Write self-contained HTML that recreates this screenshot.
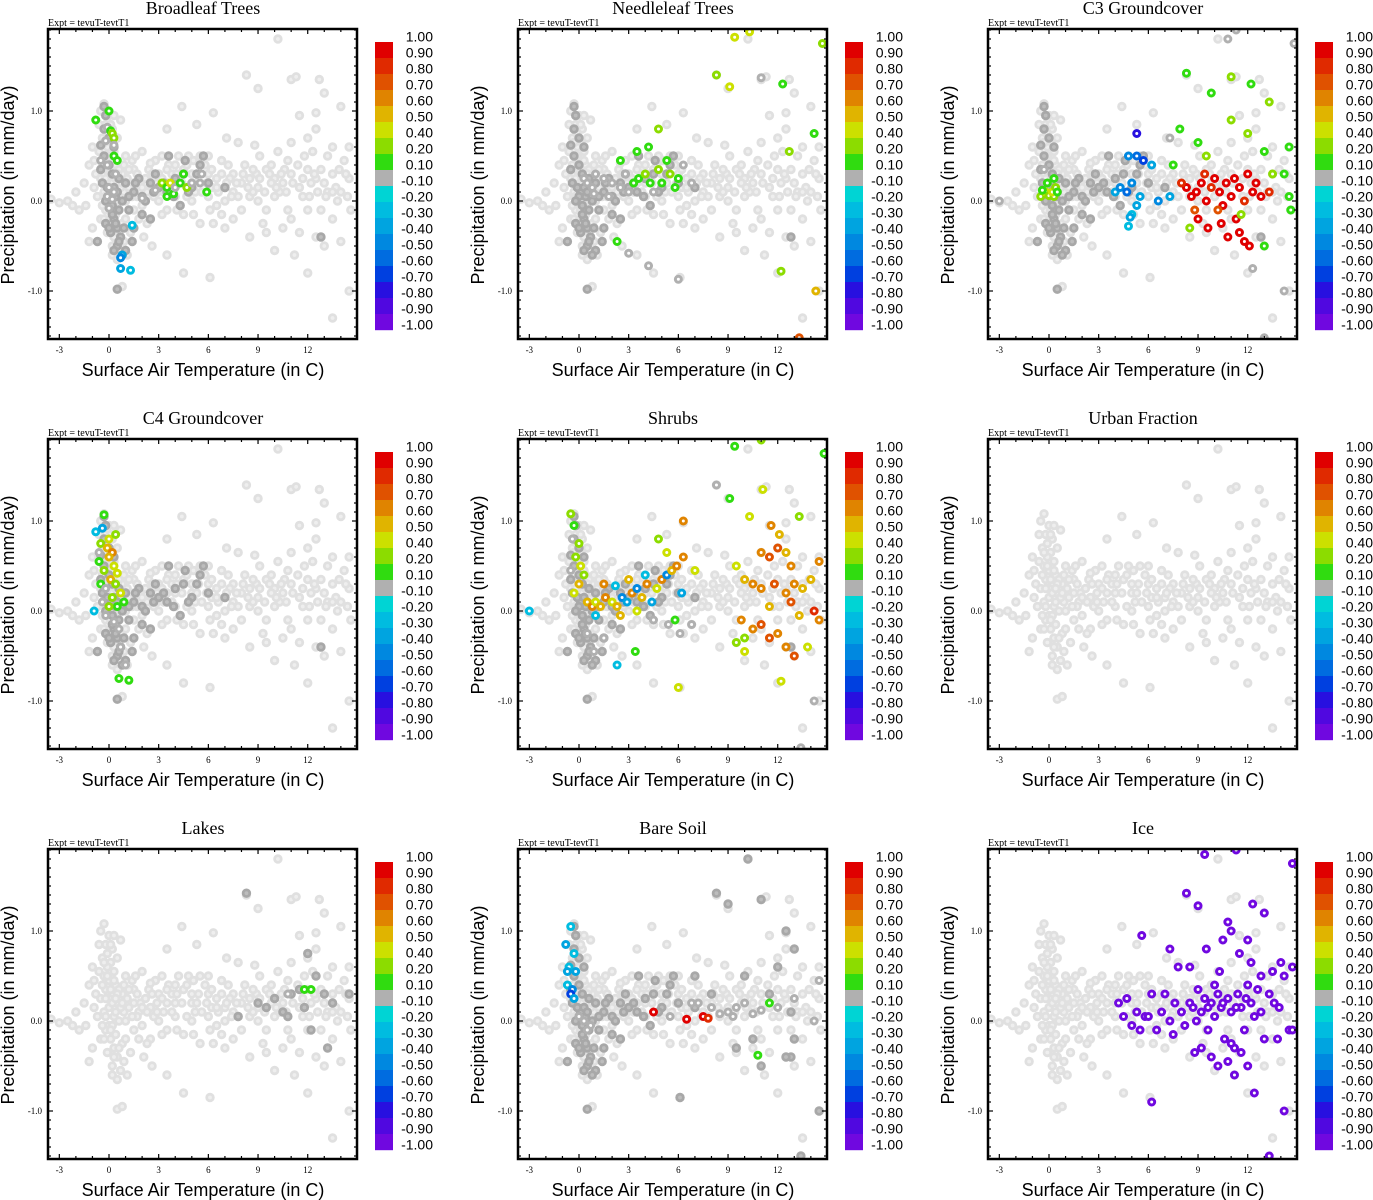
<!DOCTYPE html>
<html><head><meta charset="utf-8"><style>
body{margin:0;background:#fff;}
svg{display:block;}
.title{font-family:"Liberation Serif",serif;font-size:18px;}
.expt{font-family:"Liberation Serif",serif;font-size:10px;}
.tick{font-family:"Liberation Serif",serif;font-size:9px;}
.axl{font-family:"Liberation Sans",sans-serif;font-size:18px;}
.cbl{font-family:"Liberation Sans",sans-serif;font-size:14px;}
</style></head><body>
<svg id="chart" width="1373" height="1200" xmlns="http://www.w3.org/2000/svg"></svg>
<script>
const titles=["Broadleaf Trees","Needleleaf Trees","C3 Groundcover","C4 Groundcover","Shrubs","Urban Fraction","Lakes","Bare Soil","Ice"];
const xTicks=[-3,0,3,6,9,12];
const yTicks=[1.0,0.0,-1.0];
const yTickLabels=["1.0","0.0","-1.0"];
const cbLabels=["1.00","0.90","0.80","0.70","0.60","0.50","0.40","0.20","0.10","-0.10","-0.20","-0.30","-0.40","-0.50","-0.60","-0.70","-0.80","-0.90","-1.00"];
const cbColors=["#e00000","#e02a00","#e05200","#e08400","#e0b400","#cce000","#8cdc00","#30dc10","#b0b0b0","#00d4d4","#00bce0","#00a4e0","#0088e0","#006ce0","#0040e0","#2810e0","#5008e0","#7008e0"];
const base=[[-0.5,1.0],[-0.3,1.08],[0,0.95],[-0.2,0.85],[0.2,0.8],[-0.4,0.7],[0.1,0.65],[-0.1,0.6],[0.3,0.55],[-0.3,0.5],[0,0.45],[0.4,0.4],[-0.2,0.35],[0.2,0.3],[-0.5,0.25],[0.5,0.2],[0,0.15],[-0.3,0.1],[0.3,0.05],[0.6,0],[0,-0.05],[-0.2,-0.1],[0.4,-0.15],[0.1,-0.2],[0.8,-0.25],[0.3,-0.3],[-0.1,-0.35],[0.5,-0.4],[0.9,-0.45],[0.2,-0.5],[0.7,-0.55],[1.1,-0.6],[0.5,-0.98],[0.8,-0.95],[-1,0.6],[-1.2,0.4],[-1.5,0.2],[-2,0.1],[-2.5,0],[-3.5,0.02],[-3,-0.02],[-2.2,-0.05],[-1.8,-0.1],[-1,-0.3],[-1.2,-0.45],[1.5,0.2],[1.8,0.1],[2.2,0.25],[2.5,0.15],[3,0.3],[3.5,0.2],[4,0.4],[4.5,0.35],[5,0.2],[5.5,0.5],[6,0.3],[6.5,0.25],[7,0.15],[7.5,0.3],[8,0.2],[8.5,0.25],[9,0.15],[9.5,0.35],[10,0.25],[10.5,0.2],[11,0.3],[11.5,0.15],[12,0.35],[12.5,0.25],[13,0.2],[13.5,0.3],[14,0.1],[14.5,0.25],[1,0.0],[1.5,-0.1],[2,-0.05],[2.5,-0.2],[3,0.0],[3.5,-0.1],[4,0.05],[4.5,-0.15],[5,0.0],[5.5,-0.25],[6,0.05],[6.5,-0.05],[7,0.0],[7.5,0.1],[8,-0.1],[8.5,0.05],[9,0.0],[9.5,-0.1],[10,0.05],[10.5,-0.3],[11,-0.2],[11.5,-0.35],[12,-0.1],[12.5,-0.4],[13,-0.5],[13.5,-0.2],[14,-0.45],[10,-0.55],[11.2,-0.6],[9.3,-0.25],[12,-0.8],[14.5,-1.0],[13.5,-1.3],[6.1,-0.85],[4.5,-0.8],[3.5,-0.6],[8.3,1.4],[9,1.25],[10.2,1.8],[11,1.35],[11.3,1.38],[12.7,1.35],[13,1.2],[14,1.05],[11.5,0.95],[12.5,0.98],[6.3,0.98],[5.3,0.85],[4.4,1.05],[3.5,0.8],[7.1,0.7],[7.8,0.65],[8.8,0.62],[11,0.65],[12,0.7],[12.5,0.8],[14.5,0.6],[3.2,0.5],[2.8,0.45],[1.5,0.35],[2,0.55],[3.8,0.3],[4.8,0.5],[5.8,0.4],[6.8,0.45],[8.2,0.4],[9.8,0.4],[10.8,0.45],[11.8,0.5],[13.2,0.5],[14.2,0.45],[0.8,0.3],[1.2,0.15],[0.5,0.7],[-0.6,0.55],[-0.8,0.3],[-0.7,0.05],[-0.5,-0.2],[1.3,-0.35],[2.1,-0.4],[2.6,-0.5],[7.5,-0.2],[8.5,-0.4],[9.5,-0.35],[10.8,-0.1],[12.8,-0.1],[13.8,0.0],[14.6,-0.1],[1,0.5],[0.7,0.9],[0,0.25],[0.2,-0.05],[0.4,0.1],[0.9,0.1],[-0.1,0.75],[0.3,0.95],[4,0.2],[5.2,0.1],[6.2,0.15],[7.3,0.25],[8.7,0.1],[10.3,0.1],[11.7,0.05],[13.2,0.1],[3.3,0.1],[2.7,0.05],[1.7,0.05],[6.8,-0.15],[9.8,0.2],[12.2,0.2],[14.3,0.3],[1.2,0.35],[2.4,0.35],[3.6,0.4],[4.2,0.5],[5.4,0.3],[6.6,0.1],[7.8,0.05],[8.9,0.3],[10.6,0.35],[12.6,0.1],[13.7,0.15],[1.9,0.2],[2.9,0.2],[4.7,0.05],[6.1,-0.1],[1.4,0.45],[0.6,0.35],[-0.2,0.05],[0.7,0.15],
[0.2,0.2],[0.5,0.3],[0.8,0.2],[1.1,0.25],[1.4,0.05],[1.7,0.3],[2,0.15],[2.3,0.1],[2.6,0.3],[2.9,0.1],[3.2,0.25],[3.5,0.35],[3.8,0.1],[4.1,0.3],[4.4,0.2],[4.7,0.4],[5,0.3],[5.3,0.2],[5.6,0.1],[5.9,0.2],[6.2,0.35],[6.5,0.15],[6.8,0.3],[7.1,0.2],[7.4,0.05],[7.7,0.2],[8.1,0.3],[8.4,0.15],[8.7,0.35],[9.1,0.25],[9.4,0.1],[9.7,0.3],[10.1,0.15],[10.4,0.3],[10.7,0.1],[11.1,0.2],[11.4,0.4],[11.7,0.25],[12.1,0.05],[12.4,0.3],[12.8,0.35],[13.1,0.05],[13.5,0.1],[13.9,0.35],[14.4,0.05],[0.1,0.35],[-0.1,0.5],[0.3,0.45],[-0.4,0.4],[-0.3,0.65],[0.1,0.85],[-0.2,0.25],[0.4,0.25],[0.1,-0.1],[-0.3,-0.2],[0.3,-0.4],[0.6,-0.3],[0.2,-0.6],[0.5,-0.65],[1,-0.2],[1.8,-0.2],[2.3,-0.25],[3.2,-0.15],[4.1,-0.1],[5.1,-0.15],[6.3,-0.25],[7,-0.3],[0.9,0.4],[1.6,0.5],[2.5,0.42],[5.1,0.45],[6,0.5],[7.2,0.4],[9.1,0.5],[10.2,0.55],[12.3,0.55],[13.5,0.6],[-0.9,0.15],[-1.4,-0.05],[-0.4,-0.05],[-0.6,0.85],[-0.9,0.45]];
const darkA=[[-0.3,1.05],[-0.2,0.95],[-0.5,0.62],[-0.3,0.5],[0,0.4],[0.2,0.3],[-0.4,0.2],[0.1,0.1],[0.4,0.05],[0.2,-0.05],[0.6,-0.1],[0.3,-0.2],[0.5,-0.3],[0.1,-0.35],[0.7,-0.4],[-0.7,-0.45],[0.5,-0.5],[1,-0.55],[0.5,-0.98],[1,0.2],[1.5,0.1],[2,0.05],[2.5,0.2],[3,0.15],[3.5,0.1],[4,0.25],[4.5,0.3],[5,0.15],[5.5,0.4],[5.7,0.5],[3.6,0.5],[4.6,0.45],[2.5,-0.2],[4.3,-0.05],[2,-0.15],[1.5,-0.3],[7,0.15],[0.8,0.0],[1.2,-0.1],[-0.1,0.15],[0.3,0.6],[-0.2,-0.25],[1.8,0.25],[2.8,0.3],[12.8,-0.4],
[0,0.05],[0.3,0.15],[-0.2,0.0],[0.5,0.1],[0.2,-0.15],[0.4,-0.25],[0,-0.3],[0.6,-0.45],[0.3,-0.55],[0.8,-0.6],[-0.5,0.35],[0,0.7],[-0.3,0.8],[0.6,0.25],[1.2,0.05],[1.6,0.2],[2.2,0.0],[2.7,0.1],[3.3,0.2],[3.9,0.05],[4.8,0.1],[5.3,0.3],[6,0.2],[0.9,-0.3],[1.4,-0.45]];
const darkLakes=[[8.3,1.42],[9,0.2],[9.5,0.15],[10,0.25],[10.5,0.1],[11,0.3],[11.5,0.35],[12,0.75],[12.5,0.5],[13,0.3],[13.5,0.2],[10.8,0.05],[11.8,0.15],[12.2,-0.1],[13.2,-0.3],[7.8,0.05],[14.5,0.3]];
const darkBare=[[8.3,1.42],[9,1.3],[10.2,1.8],[11,1.35],[12.5,1.0],[13,0.8],[12,0.6],[10,0.5],[11,-0.5],[12.5,-0.4],[13,-0.2],[14.5,-1.0],[13.4,-1.5],[6.1,-0.85],[9.5,-0.3],[7,0.5],[8,0.3],[10.5,-0.2],[11.5,0.3],[12.8,0.1]];
const colBroadleaf=[[-0.8,0.9,7],[0,1.0,7],[-0.1,0.82,8],[0.1,0.78,7],[0.2,0.75,6],[0.3,0.7,6],[-0.2,0.67,8],[0.3,0.62,8],[-0.5,0.45,8],[-0.1,0.4,8],[0.3,0.5,7],[0.5,0.45,7],[0.4,0.3,8],[0,0.15,8],[0.3,0.1,8],[-0.1,0.05,8],[0.2,0.02,8],[0,-0.08,8],[2,0.03,8],[2.8,0.12,8],[3.2,0.2,6],[3.5,0.15,7],[3.7,0.2,5],[3.5,0.05,7],[3.9,0.08,7],[4,0.15,8],[4.3,0.2,7],[4.5,0.3,7],[4.7,0.15,6],[5,0.2,8],[5.5,0.2,8],[5.6,0.3,8],[5.9,0.1,7],[1.4,-0.27,10],[0.8,-0.6,11],[0.7,-0.63,12],[0.7,-0.75,11],[1.3,-0.77,10]];
const colNeedle=[[0.3,0.25,8],[0.5,0.2,8],[0.8,0.15,8],[1,0.3,8],[1.5,0.25,8],[2,0.2,8],[2.5,0.15,8],[2.8,0.3,8],[3,0.1,8],[3.3,0.2,7],[3.6,0.25,7],[4,0.3,6],[4.3,0.2,7],[4.5,0.1,8],[4.8,0.35,6],[5,0.2,7],[5.3,0.45,7],[5.5,0.3,6],[5.8,0.15,7],[6,0.25,7],[6.3,0.4,8],[6.8,0.2,8],[2.5,0.45,7],[3.5,0.55,7],[4.8,0.8,6],[4.2,0.6,7],[0.9,0.08,8],[1.8,0.05,8],[2.3,-0.45,7],[3,-0.58,8],[4.2,-0.72,8],[6,-0.87,8],[8.3,1.4,6],[9.1,1.27,5],[9.4,1.82,5],[10.3,1.88,5],[11,1.37,8],[12.3,1.3,7],[14.7,1.75,6],[12.7,0.55,6],[12.2,-0.78,6],[14.3,-1.0,4],[13.3,-1.52,2],[14.2,0.75,7]];
const colC3=[[-3,0,8],[-0.5,0.05,6],[-0.2,0.1,5],[0,0.06,6],[-0.4,0.12,7],[0.3,0.05,6],[0.2,0.1,5],[0.4,0.15,6],[-0.1,0.2,7],[-0.3,0.35,8],[0.3,0.25,7],[0.5,0.1,7],[4,0.1,11],[4.3,0.15,12],[4.7,0.1,13],[5,0.2,12],[5.3,0.5,13],[5.7,0.45,14],[5,-0.15,10],[5.3,-0.05,11],[4.8,-0.28,10],[4.9,-0.18,11],[5.5,0.05,11],[6.6,0.0,12],[4.8,0.5,12],[5.3,0.75,15],[6.2,0.4,11],[7.3,0.05,11],[8.3,0.15,0],[8.6,0.05,0],[8.9,0.1,0],[9.2,0.2,0],[9.5,0.0,0],[9.8,0.15,1],[10,0.25,0],[10.3,0.1,0],[10.5,-0.05,0],[10.7,0.2,0],[11,0.05,0],[11.2,0.25,0],[11.5,0.15,0],[11.8,0.0,1],[12,0.3,0],[12.3,0.1,0],[12.5,0.2,0],[9,-0.2,0],[9.6,-0.3,0],[10.4,-0.25,0],[11.3,-0.2,0],[11.5,-0.35,0],[11.8,-0.45,0],[12.1,-0.5,0],[10.8,-0.4,0],[9.4,0.3,1],[8,0.2,1],[12.8,0.05,0],[13.3,0.1,1],[8.8,-0.1,2],[10.2,-0.1,2],[8.3,1.42,7],[9.8,1.2,7],[11,1.38,6],[11.3,1.9,8],[10.8,1.8,8],[12.2,1.3,7],[13.3,1.1,6],[14.8,1.75,8],[7.3,0.7,8],[7.9,0.8,7],[9,0.65,7],[11,0.9,6],[12,0.75,6],[13,0.55,7],[14.5,0.6,7],[14.5,0.05,7],[14.6,-0.1,7],[13,-0.5,7],[12.3,-0.75,8],[14.2,-1.0,8],[13,-1.52,8],[7.5,0.4,7],[9.5,0.5,6],[14.2,0.3,7],[13.5,0.3,6],[8.5,-0.3,6],[11.6,-0.15,6]];
const colC4=[[-0.8,0.88,10],[-0.4,0.92,11],[-0.3,1.07,7],[0,0.8,5],[-0.5,0.75,6],[-0.1,0.7,4],[0.2,0.65,3],[0,0.6,4],[-0.6,0.55,7],[0.3,0.5,5],[-0.3,0.45,6],[0.5,0.42,5],[0.1,0.35,4],[-0.5,0.3,7],[0.4,0.3,6],[-0.2,0.25,8],[0.7,0.2,5],[0.2,0.15,6],[-0.4,0.1,8],[0.5,0.05,7],[0,0.05,6],[0.9,0.1,7],[-0.2,-0.05,8],[0.3,-0.12,8],[-0.9,0.0,10],[0.6,-0.2,8],[0.7,-0.4,8],[1,-0.6,8],[0.6,-0.75,7],[1.2,-0.77,7],[-0.6,0.65,8],[0.4,0.85,6]];
const colShrubs=[[-0.5,1.08,6],[-0.3,0.95,7],[-0.4,0.8,8],[0,0.75,6],[-0.2,0.6,6],[0.1,0.5,5],[-0.5,0.45,8],[0.3,0.4,6],[0,0.3,4],[-0.3,0.2,5],[0.5,0.1,4],[0.8,0.05,3],[1,0.1,5],[1.3,0.05,4],[1.6,0.15,3],[2,0.1,5],[2.3,0.05,4],[2.6,0.15,12],[2.9,0.1,11],[3.2,0.2,3],[3.5,0.25,12],[3.8,0.15,4],[4.1,0.3,3],[4.4,0.1,11],[4.7,0.25,5],[5,0.35,3],[5.3,0.4,12],[5.6,0.45,4],[5.9,0.5,3],[6.2,0.2,11],[1.5,0.3,3],[2.2,0.28,10],[3,0.35,4],[4,0.4,10],[1,-0.05,10],[2.5,-0.05,4],[3.5,0,5],[-3,0,10],[4.8,0.8,6],[5.3,0.65,5],[6.3,1.0,3],[6.3,0.6,3],[7,0.45,5],[5.4,-0.15,8],[6.1,-0.25,8],[6.8,-0.15,8],[5.8,-0.1,7],[4.5,-0.1,8],[0.5,-0.25,8],[0.9,-0.45,8],[1.5,-0.3,8],[2.3,-0.6,10],[3.4,-0.45,7],[6,-0.85,5],[8.3,1.4,8],[9.1,1.25,7],[9.4,1.83,7],[10.3,1.05,5],[11,1.9,6],[11.1,1.35,5],[11.6,0.95,3],[12.1,0.85,4],[12.5,0.65,4],[13.3,1.05,6],[11,0.65,3],[11.5,0.6,2],[12,0.7,2],[12.8,0.5,3],[9.5,0.5,5],[10,0.35,4],[10.5,0.3,3],[11,0.25,3],[11.8,0.3,2],[12.5,0.2,3],[13,0.3,3],[13.5,0.25,4],[14,0.35,4],[14.5,0.55,3],[9.8,-0.1,3],[10.5,-0.2,3],[11,-0.15,2],[11.5,-0.3,2],[12,-0.25,3],[12.5,-0.4,3],[13,-0.5,2],[13.8,-0.4,5],[14.2,0,1],[14.5,-0.1,3],[10,-0.3,6],[9.5,-0.35,6],[10,-0.45,5],[12.2,-0.78,5],[14.2,-1.0,8],[13.4,-1.52,8],[14.8,1.75,7],[12.8,0.1,2],[13.3,-0.05,4],[11.5,0.05,4]];
const colUrban=[];
const colLakes=[[10.8,0.3,8],[11.8,0.35,7],[12.2,0.35,7]];
const colBare=[[-0.5,1.05,10],[-0.8,0.85,11],[-0.3,0.75,10],[-0.6,0.6,10],[-0.2,0.55,11],[-0.7,0.4,10],[-0.4,0.35,12],[-0.5,0.3,14],[-0.3,0.25,11],[-0.7,0.55,11],[0,0.05,8],[0.3,0.0,8],[0.7,-0.05,8],[0.5,-0.1,8],[4.5,0.1,0],[5.5,0.05,8],[6.5,0.02,0],[7.5,0.05,0],[7.8,0.03,1],[8,0.15,8],[8.5,0.08,8],[9,0.1,8],[9.5,0.15,8],[10,0.2,8],[10.5,0.08,8],[11,0.12,8],[11.5,0.2,7],[12,0.15,8],[13,0.25,8],[10.8,-0.38,7],[14.5,0.45,8],[14.2,0.0,8],[6.8,0.2,8],[9.3,0.05,8],[7.2,0.2,8]];
const colIce=[[4.2,0.2,17],[4.5,0.05,17],[5,-0.05,17],[5.3,0.1,17],[5.5,-0.1,17],[5.8,0.05,17],[6.2,0.3,17],[6.5,-0.1,17],[6.8,0.1,17],[7,0.3,17],[7.3,0.0,17],[7.6,0.2,17],[7.8,0.6,17],[8,0.1,17],[8.2,-0.05,17],[8.5,0.2,17],[8.7,0.15,17],[8.9,0.0,17],[9,0.35,17],[9.2,0.1,17],[9.4,0.25,17],[9.6,-0.1,17],[9.8,0.2,17],[10,0.05,17],[10.2,0.3,17],[10.4,0.15,17],[10.6,-0.2,17],[10.8,0.25,17],[11,0.1,17],[11.2,-0.3,17],[11.4,0.3,17],[11.6,0.15,17],[11.8,-0.1,17],[12,0.4,17],[12.2,0.2,17],[12.4,0.05,17],[12.6,0.35,17],[12.8,0.1,17],[13,-0.2,17],[13.3,0.3,17],[13.6,0.2,17],[13.9,0.15,17],[14.2,0.5,17],[14.5,-0.1,17],[14.7,0.6,17],[9.2,-0.3,17],[9.8,-0.4,17],[10.2,-0.5,17],[10.8,-0.45,17],[11.2,-0.6,17],[11.6,-0.35,17],[12,-0.5,17],[12.4,-0.8,17],[11,-0.25,17],[13.8,-0.2,17],[14.2,-1.0,17],[13.3,-1.5,17],[14.7,-0.1,17],[5.6,0.95,17],[6.2,-0.9,17],[7.3,0.8,17],[8.3,1.42,17],[9,1.28,17],[9.4,1.85,17],[10.3,0.55,17],[10.8,1.1,17],[11,1.0,17],[11.3,1.9,17],[11.5,0.75,17],[12,0.9,17],[12.3,1.3,17],[13,1.2,17],[13.5,0.55,17],[14,0.65,17],[14.7,1.75,17],[8.5,0.6,17],[9.5,0.8,17],[10.5,0.9,17],[12.2,0.65,17],[7.5,-0.15,17],[8.8,-0.35,17],[4.7,0.25,17],[6,0.05,17],[10,0.4,17],[12.8,0.5,17],[10.5,0.2,17],[11.3,0.15,17],[11.9,0.25,17],[9.6,0.15,17]];
const colored=[colBroadleaf,colNeedle,colC3,colC4,colShrubs,colUrban,colLakes,colBare,colIce];
const darkSets=[darkA,darkA,darkA,darkA,darkA,[],darkLakes,darkA.concat(darkBare),[]];

const NS="http://www.w3.org/2000/svg";
const svg=document.getElementById('chart');
function mk(tag,attrs,parent){const e=document.createElementNS(NS,tag);for(const k in attrs)e.setAttribute(k,attrs[k]);parent.appendChild(e);return e;}
const L=48,R=357,T=29,B=339;
function sx(t){return 109+t*16.56;}
function sy(p){return 201-p*90;}
const slug=s=>s.toLowerCase().replace(/[^a-z0-9]+/g,'-');

titles.forEach((ttl,i)=>{
  const ox=(i%3)*470, oy=Math.floor(i/3)*410;
  const g=mk('g',{transform:`translate(${ox},${oy})`},svg);
  
  
  const tt=mk('text',{x:203,y:14,'text-anchor':'middle',class:'title'},g);tt.textContent=ttl;
  
  
  const ex=mk('text',{x:48,y:26,class:'expt'},g);ex.textContent='Expt = tevuT-tevtT1';
  
  
  const clip=mk('clipPath',{id:'c'+i},g);mk('rect',{x:L,y:T,width:R-L,height:B-T},clip);
  const pts=mk('g',{'clip-path':`url(#c${i})`},g);
  
  
  base.forEach(d=>{const c=mk('circle',{cx:sx(d[0]),cy:sy(d[1]),r:3.3,fill:'#eeeeee',stroke:'#e0e0e0','stroke-width':2.8},pts);
    
    });
  darkSets[i].forEach(d=>{const c=mk('circle',{cx:sx(d[0]),cy:sy(d[1]),r:3.3,fill:'#bdbdbd',stroke:'#a8a8a8','stroke-width':2.8},pts);
    
    });
  colored[i].forEach(d=>{const c=mk('circle',{cx:sx(d[0]),cy:sy(d[1]),r:3,fill:'#fff',stroke:cbColors[d[2]],'stroke-width':3},pts);
    
    });
  const box=mk('rect',{x:L,y:T,width:R-L,height:B-T,fill:'none',stroke:'#000','stroke-width':2.5},g);
  
  
  for(let t=-3;t<=14;t++){const x=sx(t);const big=xTicks.includes(t);const len=big?5:3;
    mk('line',{x1:x,x2:x,y1:B,y2:B-len,stroke:'#000','stroke-width':1.2},g);
    mk('line',{x1:x,x2:x,y1:T,y2:T+len,stroke:'#000','stroke-width':1.2},g);}
  for(let k=-15;k<=19;k++){const y=sy(k/10);if(y<T||y>B)continue;const big=k%10===0;const len=big?5:3;
    mk('line',{x1:L,x2:L+len,y1:y,y2:y,stroke:'#000','stroke-width':1.2},g);
    mk('line',{x1:R,x2:R-len,y1:y,y2:y,stroke:'#000','stroke-width':1.2},g);}
  xTicks.forEach(t=>{const e=mk('text',{x:sx(t),y:353,'text-anchor':'middle',class:'tick'},g);e.textContent=t;
    
    });
  yTicks.forEach((p,j)=>{const e=mk('text',{x:42,y:sy(p)+3,'text-anchor':'end',class:'tick'},g);e.textContent=yTickLabels[j];
    
    });
  const xl=mk('text',{x:203,y:376,'text-anchor':'middle',class:'axl'},g);xl.textContent='Surface Air Temperature (in C)';
  
  
  const yl=mk('text',{x:0,y:0,'text-anchor':'middle',class:'axl',transform:'translate(14,185) rotate(-90)'},g);yl.textContent='Precipitation (in mm/day)';
  
  
  const cb=mk('g',{},g);
  
  
  cbColors.forEach((c,j)=>{const r=mk('rect',{x:375,y:42+j*16,width:18,height:16.2,fill:c},cb);
    
    });
  cbLabels.forEach((s,j)=>{const e=mk('text',{x:433,y:41.5+j*16,'text-anchor':'end',class:'cbl'},cb);e.textContent=s;
    
    });
});
</script>
</body></html>
